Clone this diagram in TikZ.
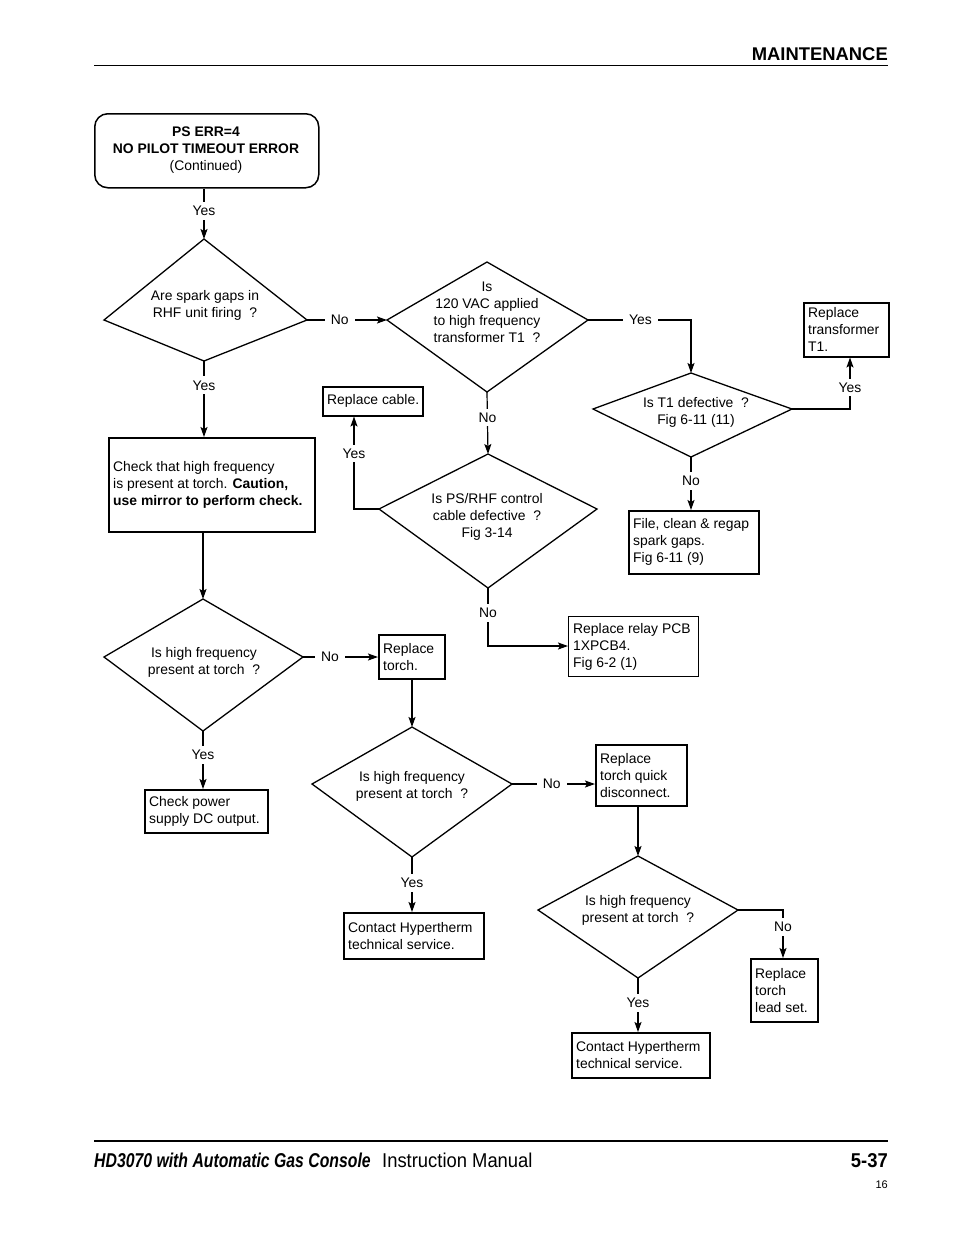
\documentclass[tikz,border=0pt]{standalone}
\usepackage{fontspec}
\setmainfont{Liberation Sans}
\newfontfamily\footA[FakeStretch=0.79]{Liberation Sans}
\newfontfamily\footB[FakeStretch=0.92]{Liberation Sans}
\usetikzlibrary{arrows.meta,calc}
\tikzset{
  boxst/.style={draw, line width=1.5pt, inner sep=0pt, anchor=north west},
  txt/.style={inner sep=0pt, align=left, anchor=west, font=\fontsize{13.9}{17}\selectfont},
  ctxt/.style={inner sep=0pt, align=center, font=\fontsize{13.9}{17}\selectfont},
  lbl/.style={fill=white, inner xsep=6pt, inner ysep=4pt, font=\fontsize{13.9}{17}\selectfont},
  conn/.style={line width=1.2pt},
  arr/.style={conn, -{Stealth[length=10pt,width=7pt,inset=2pt]}},
  dia/.style={line width=1.3pt, line join=miter}
}
\begin{document}
\begin{tikzpicture}[x=1pt,y=-1pt]
\useasboundingbox (0,0) rectangle (954,1235);
% header
\draw[line width=1pt] (94,65) -- (888,65);
\node[inner sep=0pt, anchor=base east, font=\bfseries\fontsize{18.4}{20}\selectfont] (hdr) at (888,60) {MAINTENANCE};
% footer
\draw[line width=2pt] (94,1141) -- (888,1141);
\node[inner sep=0pt, anchor=base west, font=\footA\bfseries\itshape\fontsize{20}{22}\selectfont] (ft1) at (94,1167) {HD3070 with Automatic Gas Console};
\node[inner sep=0pt, anchor=base west, font=\footB\fontsize{20}{22}\selectfont] (ft2) at (382,1167) {Instruction Manual};
\node[inner sep=0pt, anchor=base east, font=\footB\bfseries\fontsize{20}{22}\selectfont] (ft3) at (888,1167) {5-37};
\node[inner sep=0pt, anchor=base east, font=\fontsize{11}{12}\selectfont] (ft4) at (888,1188) {16};

% start box
\node[boxst, rounded corners=13pt, minimum width=224pt, minimum height=74pt] (start) at (94,113) {};
\node[ctxt] (startt) at (206,150) {\textbf{PS ERR=4}\\\textbf{NO PILOT TIMEOUT ERROR}\\(Continued)};

% diamonds
\coordinate (d1t) at (204,239); \coordinate (d1l) at (104,320); \coordinate (d1r) at (307,320); \coordinate (d1b) at (204,361);
\draw[dia] (d1t) -- (d1r) -- (d1b) -- (d1l) -- cycle;
\node[ctxt] (d1) at (205,305) {Are spark gaps in\\RHF unit firing\ \ ?};

\coordinate (d2t) at (487,262); \coordinate (d2l) at (387,320); \coordinate (d2r) at (588,320); \coordinate (d2b) at (487,392);
\draw[dia] (d2t) -- (d2r) -- (d2b) -- (d2l) -- cycle;
\node[ctxt] (d2) at (487,312) {Is\\120 VAC applied\\to high frequency\\transformer T1\ \ ?};

\coordinate (d3t) at (203,599); \coordinate (d3l) at (104,657); \coordinate (d3r) at (303,657); \coordinate (d3b) at (203,731);
\draw[dia] (d3t) -- (d3r) -- (d3b) -- (d3l) -- cycle;
\node[ctxt] (d3) at (204,662) {Is high frequency\\present at torch\ \ ?};

\coordinate (d4t) at (412,727); \coordinate (d4l) at (312,784); \coordinate (d4r) at (512,784); \coordinate (d4b) at (412,857);
\draw[dia] (d4t) -- (d4r) -- (d4b) -- (d4l) -- cycle;
\node[ctxt] (d4) at (412,786) {Is high frequency\\present at torch\ \ ?};

\coordinate (d5t) at (638,856); \coordinate (d5l) at (538,910); \coordinate (d5r) at (738,910); \coordinate (d5b) at (638,978);
\draw[dia] (d5t) -- (d5r) -- (d5b) -- (d5l) -- cycle;
\node[ctxt] (d5) at (638,910) {Is high frequency\\present at torch\ \ ?};

\coordinate (d6t) at (691,373); \coordinate (d6l) at (593,409); \coordinate (d6r) at (792,409); \coordinate (d6b) at (691,457);
\draw[dia] (d6t) -- (d6r) -- (d6b) -- (d6l) -- cycle;
\node[ctxt] (d6) at (696,412) {Is T1 defective\ \ ?\\Fig 6-11 (11)};

\coordinate (d7t) at (488,454); \coordinate (d7l) at (379,509); \coordinate (d7r) at (597,509); \coordinate (d7b) at (488,588);
\draw[dia] (d7t) -- (d7r) -- (d7b) -- (d7l) -- cycle;
\node[ctxt] (d7) at (487,517) {Is PS/RHF control\\cable defective\ \ ?\\Fig 3-14};

% boxes
\node[boxst, minimum width=206pt, minimum height=94pt] (chk) at (108,437) {};
\node[txt] at ([xshift=5pt]chk.west) {Check that high frequency\\is present at torch. \textbf{Caution,}\\\textbf{use mirror to perform check.}};

\node[boxst, minimum width=100pt, minimum height=29pt] (cable) at (322,386) {};
\node[txt] at ([xshift=5pt]cable.west) {Replace cable.};

\node[boxst, minimum width=85pt, minimum height=54pt] (rt) at (803,302) {};
\node[txt] at ([xshift=5pt]rt.west) {Replace\\transformer\\T1.};

\node[boxst, minimum width=130pt, minimum height=63pt] (file) at (628,510) {};
\node[txt] at ([xshift=5pt]file.west) {File, clean \& regap\\spark gaps.\\Fig 6-11 (9)};

\node[boxst, line width=1.1pt, minimum width=130pt, minimum height=60pt] (relay) at (568,616) {};
\node[txt] at ([xshift=5pt]relay.west) {Replace relay PCB\\1XPCB4.\\Fig 6-2 (1)};

\node[boxst, minimum width=66pt, minimum height=44pt] (torch) at (378,634) {};
\node[txt] at ([xshift=5pt]torch.west) {Replace\\torch.};

\node[boxst, minimum width=123pt, minimum height=43pt] (cpow) at (144,789) {};
\node[txt] at ([xshift=5pt]cpow.west) {Check power\\supply DC output.};

\node[boxst, minimum width=91pt, minimum height=61pt] (rtqd) at (595,744) {};
\node[txt] at ([xshift=5pt]rtqd.west) {Replace\\torch quick\\disconnect.};

\node[boxst, minimum width=140pt, minimum height=46pt] (cont1) at (343,912) {};
\node[txt] at ([xshift=5pt]cont1.west) {Contact Hypertherm\\technical service.};

\node[boxst, minimum width=67pt, minimum height=63pt] (lead) at (750,958) {};
\node[txt] at ([xshift=5pt]lead.west) {Replace\\torch\\lead set.};

\node[boxst, minimum width=138pt, minimum height=45pt] (cont2) at (571,1032) {};
\node[txt] at ([xshift=5pt]cont2.west) {Contact Hypertherm\\technical service.};

% corners
\coordinate (c2) at (691,320);
\coordinate (c6) at (850,409);
\coordinate (c7) at (354,509);
\coordinate (c7b) at (488,646);
\coordinate (c5) at (783,910);

% connectors
\draw[arr] (start.south -| d1t) -- node[lbl,pos=0.44]{Yes} (d1t);
\draw[arr] (d1b) -- node[lbl,pos=0.32]{Yes} (d1b |- chk.north);
\draw[arr] (d1r) -- node[lbl,pos=0.41]{No} (d2l);
\draw[arr] (d2r) -- node[lbl,pos=0.51]{Yes} (c2) -- (d6t);
\draw[arr] (d2b) -- node[lbl,pos=0.41]{No} (d7t);
\draw[arr] (d6r) -- (c6) -- node[lbl,pos=0.42]{Yes} (c6 |- rt.south);
\draw[arr] (d6b) -- node[lbl,pos=0.45]{No} (d6b |- file.north);
\draw[arr] (d7l) -- (c7) -- node[lbl,pos=0.6]{Yes} (c7 |- cable.south);
\draw[arr] (d7b) -- node[lbl,pos=0.43]{No} (c7b) -- (relay.west |- c7b);
\draw[arr, line width=1.6pt] (d3t |- chk.south) -- (d3t);
\draw[arr] (d3r) -- node[lbl,pos=0.36]{No} (torch.west |- d3r);
\draw[arr] (d3b) -- node[lbl,pos=0.41]{Yes} (d3b |- cpow.north);
\draw[arr] (d4t |- torch.south) -- (d4t);
\draw[arr] (d4r) -- node[lbl,pos=0.48]{No} (rtqd.west |- d4r);
\draw[arr] (d4b) -- node[lbl,pos=0.47]{Yes} (d4b |- cont1.north);
\draw[arr, line width=1.6pt] (d5t |- rtqd.south) -- (d5t);
\draw[arr] (d5r) -- (c5) -- node[lbl,pos=0.35]{No} (c5 |- lead.north);
\draw[arr] (d5b) -- node[lbl,pos=0.46]{Yes} (d5b |- cont2.north);
\end{tikzpicture}
\end{document}
